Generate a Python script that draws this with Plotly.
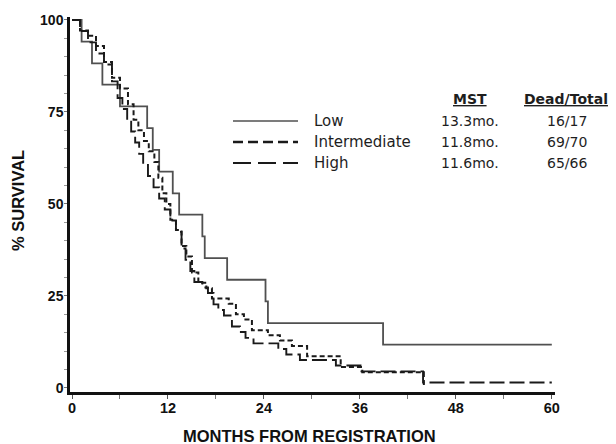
import plotly.graph_objects as go

# ---- data ----
low_months = [0, 1.2, 2.5, 3.8, 6.0, 9.4, 10.1, 10.9, 12.6, 13.4, 16.3, 16.6, 19.4, 24.2, 24.5, 38.9, 60]
low_surv = [100, 94.1, 88.2, 82.4, 76.5, 70.6, 64.7, 58.8, 52.9, 47.1, 41.2, 35.3, 29.4, 23.5, 17.6, 11.8, 11.8]

int_months = [0, 1.0, 2.0, 3.0, 4.0, 5.0, 6.0, 7.0, 7.7, 8.3, 9.0, 9.6, 10.3, 10.8, 11.3, 11.8, 12.3, 13.0,
              13.7, 14.3, 15.0, 15.8, 16.8, 17.5, 19.6, 20.5, 21.5, 22.5, 24.5, 26.0, 27.5, 29.4, 33.6, 36.3, 44.0]
int_surv = [100, 97.1, 95.7, 92.9, 88.6, 84.3, 81.4, 77.1, 72.9, 70.0, 67.1, 64.3, 61.4, 57.1, 52.9, 50.0, 45.7, 42.9,
            38.6, 35.7, 31.4, 28.6, 27.1, 24.3, 22.9, 20.0, 18.6, 15.7, 14.3, 12.9, 11.4, 8.6, 5.7, 4.3, 0.0]

high_months = [0, 1.0, 2.0, 3.0, 4.0, 5.0, 5.7, 6.3, 6.9, 7.4, 7.9, 8.4, 8.9, 9.5, 10.2, 10.9, 11.6, 12.3, 13.0,
               13.7, 14.2, 14.8, 15.3, 16.3, 17.0, 17.7, 18.3, 19.0, 20.0, 21.0, 21.7, 22.7, 25.8, 26.8, 28.5, 33.0,
               36.2, 43.9, 60]
high_surv = [100, 97.0, 93.9, 90.9, 87.9, 83.3, 78.8, 75.8, 72.7, 69.7, 66.7, 63.6, 60.6, 57.6, 54.5, 51.5, 48.5,
             45.5, 42.4, 37.9, 34.8, 31.8, 28.8, 27.3, 25.8, 22.7, 21.2, 19.7, 16.7, 15.2, 13.6, 12.1, 10.6, 9.1,
             7.6, 6.1, 4.5, 1.5, 1.5]

group_names = ["Low", "Intermediate", "High"]
mst_values = ["13.3mo.", "11.8mo.", "11.6mo."]
dead_total = ["16/17", "69/70", "65/66"]

x_ticks = [0, 12, 24, 36, 48, 60]
y_ticks = [0, 25, 50, 75, 100]

FONT = "Liberation Sans, Arial, sans-serif"
LFONT = "DejaVu Sans, sans-serif"

fig = go.Figure()
fig.add_trace(go.Scatter(x=low_months, y=low_surv, mode="lines", line_shape="hv",
                         line=dict(color="#505050", width=1.8), name=group_names[0]))
fig.add_trace(go.Scatter(x=int_months, y=int_surv, mode="lines", line_shape="hv",
                         line=dict(color="#1a1a1a", width=2, dash="5px,3px"), name=group_names[1]))
fig.add_trace(go.Scatter(x=high_months, y=high_surv, mode="lines", line_shape="hv",
                         line=dict(color="#1a1a1a", width=1.9, dash="15px,5px"), name=group_names[2]))

# ---- legend-like table (shapes + annotations) ----
L, W, B, H = 70, 485, 392, 375
def px_x(px): return (px - L) / W
def px_y(py): return (B - py) / H

legend_rows_y = [121, 142, 163]
line_styles = [dict(color="#505050", width=1.6),
               dict(color="#1a1a1a", width=2.4, dash="10px,5px"),
               dict(color="#1a1a1a", width=2.2, dash="18px,7px")]
for i, yy in enumerate(legend_rows_y):
    fig.add_shape(type="line", xref="paper", yref="paper",
                  x0=px_x(233), x1=px_x(298), y0=px_y(yy), y1=px_y(yy), line=line_styles[i])
    fig.add_annotation(xref="paper", yref="paper", x=px_x(312), y=px_y(yy), text=group_names[i],
                       showarrow=False, xanchor="left", yanchor="middle",
                       font=dict(family=LFONT, size=15, color="#1e1e1e"))
    fig.add_annotation(xref="paper", yref="paper", x=px_x(439), y=px_y(yy), text=mst_values[i],
                       showarrow=False, xanchor="left", yanchor="middle",
                       font=dict(family=LFONT, size=14, color="#1e1e1e"))
    fig.add_annotation(xref="paper", yref="paper", x=px_x(567), y=px_y(yy), text=dead_total[i],
                       showarrow=False, xanchor="center", yanchor="middle",
                       font=dict(family=LFONT, size=14, color="#1e1e1e"))

fig.add_annotation(xref="paper", yref="paper", x=px_x(470), y=px_y(99), text="<b><u>MST</u></b>",
                   showarrow=False, xanchor="center", yanchor="middle",
                   font=dict(family=LFONT, size=14, color="#1e1e1e"))
fig.add_annotation(xref="paper", yref="paper", x=px_x(566), y=px_y(99), text="<b><u>Dead/Total</u></b>",
                   showarrow=False, xanchor="center", yanchor="middle",
                   font=dict(family=LFONT, size=14, color="#1e1e1e"))

# axis titles
fig.add_annotation(xref="paper", yref="paper", x=px_x(309), y=px_y(436), text="<b>MONTHS FROM REGISTRATION</b>",
                   showarrow=False, xanchor="center", yanchor="middle",
                   font=dict(family=FONT, size=16.5, color="#111"))
fig.add_annotation(xref="paper", yref="paper", x=px_x(18), y=px_y(201), text="<b>% SURVIVAL</b>",
                   showarrow=False, xanchor="center", yanchor="middle", textangle=-90,
                   font=dict(family=FONT, size=16.5, color="#111"))

fig.update_layout(
    width=616, height=444,
    margin=dict(l=L, r=616 - L - W, t=B - H, b=444 - B),
    paper_bgcolor="white", plot_bgcolor="white",
    showlegend=False,
    font=dict(family=FONT, color="#111"),
)
fig.update_xaxes(range=[-0.25, 60.4], tickvals=x_ticks, ticktext=[f"<b>{v}</b>" for v in x_ticks],
                 showgrid=False, zeroline=False, showline=True, linecolor="#111", linewidth=2.5,
                 ticks="outside", ticklen=4, tickcolor="#555", tickwidth=1, ticklabelstandoff=-3,
                 minor=dict(dtick=6, tick0=0, ticks="outside", ticklen=4, tickcolor="#777"),
                 tickfont=dict(family=FONT, size=14.5, color="#111"))
fig.update_yaxes(range=[-1.1, 100.8], tickvals=y_ticks, ticktext=[f"<b>{v}</b>" for v in y_ticks],
                 showgrid=False, zeroline=False, showline=True, linecolor="#111", linewidth=2.5,
                 ticks="outside", ticklen=3, tickcolor="#777", tickwidth=1, ticklabelstandoff=-2,
                 minor=dict(dtick=5, tick0=0, ticks="outside", ticklen=3, tickcolor="#999"),
                 tickfont=dict(family=FONT, size=14, color="#111"))

fig.write_html("out.html", config={"displayModeBar": False},
               post_script="document.body.style.margin='0px';")
